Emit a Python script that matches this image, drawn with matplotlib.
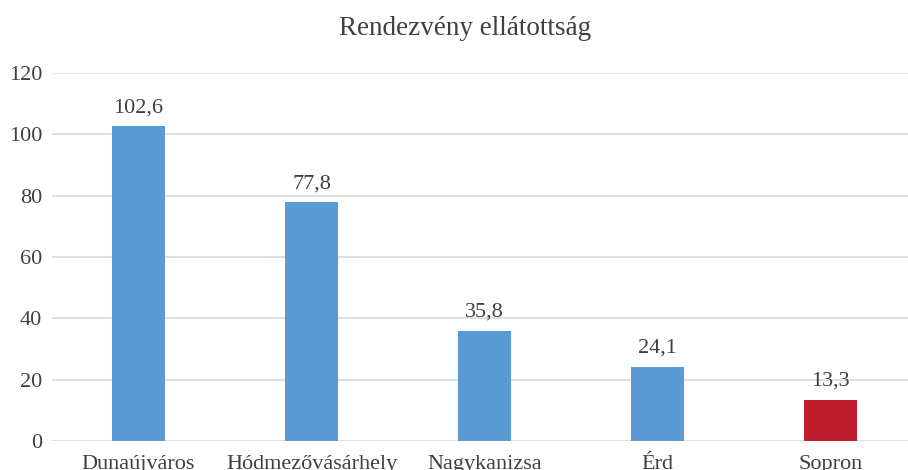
import matplotlib.pyplot as plt

cities = ['Dunaújváros', 'Hódmezővásárhely', 'Nagykanizsa', 'Érd', 'Sopron']
values = [102.6, 77.8, 35.8, 24.1, 13.3]
colors = ['#5B9BD5', '#5B9BD5', '#5B9BD5', '#5B9BD5', '#BE1E2D']
yticks = [0, 20, 40, 60, 80, 100, 120]

plt.rcParams['font.family'] = ['Liberation Serif', 'DejaVu Serif']

fig = plt.figure(figsize=(9.08, 4.70), dpi=100)
ax = fig.add_axes([0.0573, 0.0617, 0.9427, 0.783])

x = range(len(cities))
bars = ax.bar(x, values, width=0.31, color=colors, zorder=2)
for b, v in zip(bars, values):
    ax.text(b.get_x() + b.get_width() / 2, v + 3, f'{v:.1f}'.replace('.', ','),
            ha='center', va='bottom', fontsize=16, color='#404040')

ax.set_xlim(-0.5, 4.448)
ax.set_ylim(0, 120)
ax.set_yticks(yticks)
ax.set_xticks(list(x))
ax.set_xticklabels(cities)
ax.tick_params(axis='both', length=0, labelsize=16, labelcolor='#404040')
ax.tick_params(axis='x', pad=10)
ax.tick_params(axis='y', pad=7)
ax.grid(axis='y', color='#D9D9D9', linewidth=1.2, zorder=0)
for s in ax.spines.values():
    s.set_visible(False)

fig.text(0.512, 0.94, 'Rendezvény ellátottság', ha='center', va='center',
         fontsize=19.5, color='#404040')

fig.savefig('out.png', dpi=100)
